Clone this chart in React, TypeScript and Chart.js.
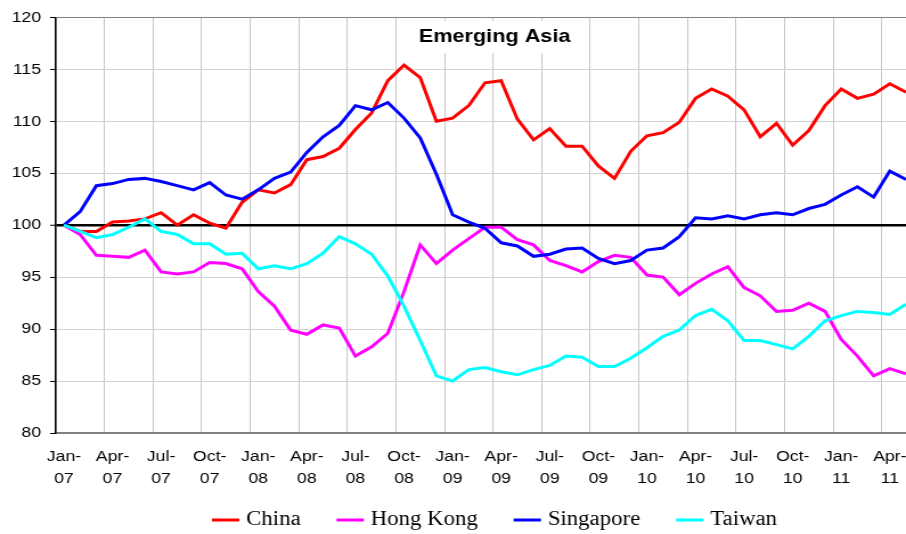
import React, { useEffect, useRef } from 'react';
import { Chart, registerables } from 'chart.js';

Chart.register(...registerables);

// ---------------- data ----------------
const months = [
  'Jan-07', 'Feb-07', 'Mar-07', 'Apr-07', 'May-07', 'Jun-07', 'Jul-07', 'Aug-07', 'Sep-07', 'Oct-07', 'Nov-07', 'Dec-07',
  'Jan-08', 'Feb-08', 'Mar-08', 'Apr-08', 'May-08', 'Jun-08', 'Jul-08', 'Aug-08', 'Sep-08', 'Oct-08', 'Nov-08', 'Dec-08',
  'Jan-09', 'Feb-09', 'Mar-09', 'Apr-09', 'May-09', 'Jun-09', 'Jul-09', 'Aug-09', 'Sep-09', 'Oct-09', 'Nov-09', 'Dec-09',
  'Jan-10', 'Feb-10', 'Mar-10', 'Apr-10', 'May-10', 'Jun-10', 'Jul-10', 'Aug-10', 'Sep-10', 'Oct-10', 'Nov-10', 'Dec-10',
  'Jan-11', 'Feb-11', 'Mar-11', 'Apr-11', 'May-11',
];

const tickLabels = [
  'Jan-07', 'Apr-07', 'Jul-07', 'Oct-07', 'Jan-08', 'Apr-08', 'Jul-08', 'Oct-08', 'Jan-09',
  'Apr-09', 'Jul-09', 'Oct-09', 'Jan-10', 'Apr-10', 'Jul-10', 'Oct-10', 'Jan-11', 'Apr-11',
];

const china = [
  100, 99.4, 99.4, 100.3, 100.4, 100.6, 101.2, 100.0, 101.0, 100.2,
  99.7, 102.2, 103.4, 103.1, 103.9, 106.3, 106.6, 107.4, 109.2, 110.8,
  113.9, 115.4, 114.2, 110.0, 110.3, 111.5, 113.7, 113.9, 110.2, 108.2,
  109.3, 107.6, 107.6, 105.7, 104.5, 107.1, 108.6, 108.9, 109.9, 112.2,
  113.1, 112.4, 111.1, 108.5, 109.8, 107.7, 109.1, 111.5, 113.1, 112.2,
  112.6, 113.6, 112.8,
];

const hongKong = [
  100, 99.1, 97.1, 97.0, 96.9, 97.6, 95.5, 95.3, 95.5, 96.4,
  96.3, 95.8, 93.6, 92.2, 89.9, 89.5, 90.4, 90.1, 87.4, 88.3,
  89.6, 93.6, 98.1, 96.3, 97.6, 98.7, 99.8, 99.8, 98.6, 98.1,
  96.6, 96.1, 95.5, 96.5, 97.1, 96.9, 95.2, 95.0, 93.3, 94.4,
  95.3, 96.0, 94.0, 93.2, 91.7, 91.8, 92.5, 91.7, 89.0, 87.4,
  85.5, 86.2, 85.7,
];

const singapore = [
  100, 101.3, 103.8, 104.0, 104.4, 104.5, 104.2, 103.8, 103.4, 104.1,
  102.9, 102.5, 103.4, 104.5, 105.1, 107.0, 108.5, 109.6, 111.5, 111.1,
  111.8, 110.3, 108.4, 104.9, 101.0, 100.3, 99.7, 98.3, 98.0, 97.0,
  97.2, 97.7, 97.8, 96.8, 96.3, 96.6, 97.6, 97.8, 98.9, 100.7,
  100.6, 100.9, 100.6, 101.0, 101.2, 101.0, 101.6, 102.0, 102.9, 103.7,
  102.7, 105.2, 104.4,
];

const taiwan = [
  100, 99.4, 98.8, 99.1, 99.8, 100.6, 99.4, 99.1, 98.2, 98.2,
  97.2, 97.3, 95.8, 96.1, 95.8, 96.3, 97.3, 98.9, 98.2, 97.2,
  95.1, 92.2, 88.9, 85.5, 85.0, 86.1, 86.3, 85.9, 85.6, 86.1,
  86.5, 87.4, 87.3, 86.4, 86.4, 87.2, 88.2, 89.3, 89.9, 91.3,
  91.9, 90.8, 88.9, 88.9, 88.5, 88.1, 89.3, 90.8, 91.3, 91.7,
  91.6, 91.4, 92.4,
];

const seriesNames = ['China', 'Hong Kong', 'Singapore', 'Taiwan'];
const seriesColors = ['#FF0000', '#FF00FF', '#0000FF', '#00FFFF'];
const seriesValues = [china, hongKong, singapore, taiwan];

const yMin = 80;
const yMax = 120;
const yStep = 5;
const baseline = 100;
const chartTitle = 'Emerging Asia';

// ---------------- layout ----------------
const DISPLAY_W = 906;
const DISPLAY_H = 534;
const RENDER_W = 795; // rendered narrower and stretched horizontally, like the reference

const SANS = "'Liberation Sans', Arial, sans-serif";
const SERIF = "'Liberation Serif', 'Times New Roman', serif";

const titlePlugin = {
  id: 'boxTitle',
  beforeDatasetsDraw(chart: any) {
    const ctx = chart.ctx;
    ctx.save();
    ctx.font = `bold 19px ${SANS}`;
    const w = ctx.measureText(chartTitle).width;
    const cx = 434;
    const cy = 37;
    ctx.fillStyle = '#ffffff';
    ctx.fillRect(cx - w / 2 - 16, 21, w + 32, 32);
    ctx.fillStyle = '#000000';
    ctx.textAlign = 'center';
    ctx.textBaseline = 'middle';
    ctx.fillText(chartTitle, cx, cy);
    ctx.restore();
  },
};

const legendPlugin = {
  id: 'lineLegend',
  afterDraw(chart: any) {
    const ctx = chart.ctx;
    ctx.save();
    ctx.font = `20px ${SERIF}`;
    ctx.textBaseline = 'middle';
    ctx.textAlign = 'left';
    let x = 186;
    const y = 520;
    const markerLen = 24;
    const gap = 6;
    const itemGap = 31.5;
    chart.data.datasets
      .slice()
      .sort((a: any, b: any) => a.legendIndex - b.legendIndex)
      .forEach((ds: any) => {
        ctx.strokeStyle = ds.borderColor;
        ctx.lineWidth = 3;
        ctx.beginPath();
        ctx.moveTo(x, y);
        ctx.lineTo(x + markerLen, y);
        ctx.stroke();
        x += markerLen + gap;
        ctx.fillStyle = '#000';
        ctx.fillText(ds.label, x, y);
        x += ctx.measureText(ds.label).width + itemGap;
      });
    ctx.restore();
  },
};

export default function App() {
  const canvasRef = useRef<HTMLCanvasElement | null>(null);

  useEffect(() => {
    document.body.style.margin = '0';
    document.body.style.overflow = 'hidden';
    const canvas = canvasRef.current;
    if (!canvas) return;

    const tickPositions = tickLabels.map((l) => months.indexOf(l) - 0.5);
    const tickLines = tickLabels.map((l) => {
      const [m, y] = l.split('-');
      return [m + '-', y];
    });

    const datasets = seriesNames.map((name, s) => ({
      label: name,
      legendIndex: s,
      data: seriesValues[s].map((v, i) => ({ x: i, y: v })),
      borderColor: seriesColors[s],
      backgroundColor: seriesColors[s],
      borderWidth: 3,
      pointRadius: 0,
      fill: false,
      tension: 0,
      order: seriesNames.length - s,
    }));

    const chart = new Chart(canvas, {
      type: 'line',
      data: { datasets } as any,
      plugins: [titlePlugin, legendPlugin],
      options: {
        responsive: false,
        animation: false,
        devicePixelRatio: 1,
        layout: { padding: { top: 14, left: 0, right: 0, bottom: 0 } },
        plugins: {
          legend: { display: false },
          tooltip: { enabled: false },
          title: { display: false },
        },
        scales: {
          x: {
            type: 'linear',
            min: -0.5,
            max: months.length - 1,
            afterBuildTicks: (scale: any) => {
              scale.ticks = tickPositions.map((v) => ({ value: v }));
            },
            afterFit: (scale: any) => {
              scale.height = 101;
              scale.paddingLeft = 0;
              scale.paddingRight = 0;
            },
            grid: { color: '#c6c6c6', lineWidth: 1, drawTicks: false },
            border: { color: '#808080', width: 1.5 },
            ticks: {
              autoSkip: false,
              maxRotation: 0,
              minRotation: 0,
              padding: 13.5,
              labelOffset: 7.1,
              color: '#000',
              font: { family: SANS, size: 15.5, lineHeight: 1.375 },
              callback: (_v: any, i: number) => tickLines[i],
            },
          },
          y: {
            min: yMin,
            max: yMax,
            afterFit: (scale: any) => {
              scale.width = 49;
            },
            ticks: {
              stepSize: yStep,
              padding: 8,
              color: '#000',
              font: { family: SANS, size: 15.5 },
            },
            grid: {
              color: (c: any) =>
                c.tick && c.tick.value === baseline
                  ? '#000000'
                  : c.tick && (c.tick.value === yMax || c.tick.value === yMin)
                  ? '#808080'
                  : '#d2d2d2',
              lineWidth: (c: any) => (c.tick && c.tick.value === baseline ? 2.5 : 1),
              tickColor: '#000',
              tickLength: 5,
              tickWidth: 1,
            },
            border: { color: '#000', width: 1.5 },
          },
        },
      } as any,
    });

    return () => {
      chart.destroy();
    };
  }, []);

  return (
    <div style={{ width: DISPLAY_W, height: DISPLAY_H, overflow: 'hidden', background: '#fff' }}>
      <canvas
        ref={canvasRef}
        width={RENDER_W}
        height={DISPLAY_H}
        style={{ width: `${DISPLAY_W}px`, height: `${DISPLAY_H}px`, display: 'block' }}
      />
    </div>
  );
}
